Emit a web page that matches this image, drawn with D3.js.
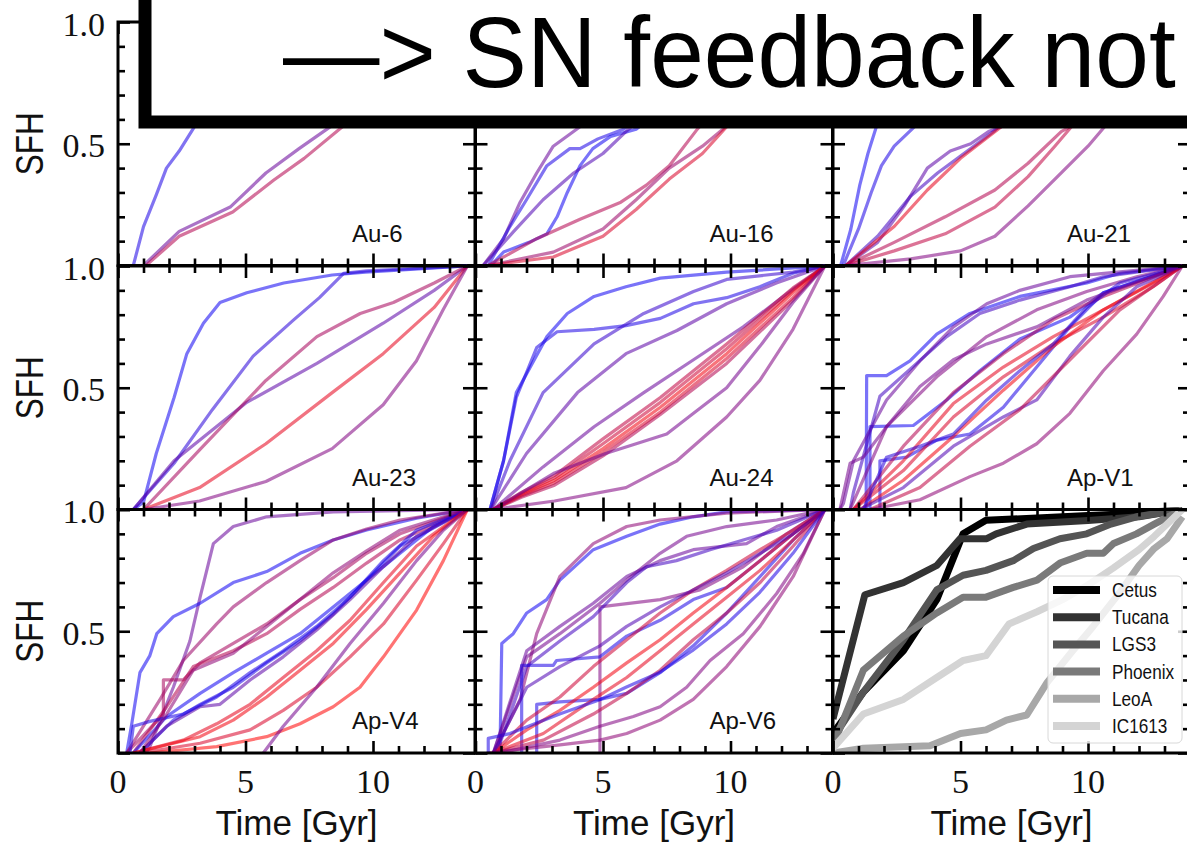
<!DOCTYPE html>
<html><head><meta charset="utf-8">
<script src="https://cdn.jsdelivr.net/npm/d3@7"></script>
<style>body{margin:0;background:#fff}svg{display:block}</style>
</head><body>
<svg id="c" width="1187" height="848"></svg>
<script>
// ---------- texts / ticks ----------
const titleText = "\u2014> SN feedback not";
const xLabel = "Time [Gyr]";
const yLabel = "SFH";
const panelNames = ["Au-6","Au-16","Au-21","Au-23","Au-24","Ap-V1","Ap-V4","Ap-V6"];
const xMajorTicks = [0,5,10];
const xMinorTicks = [1,2,3,4,6,7,8,9,11,12,13];
const yMajorTicks = [0,0.5,1];
const yMinorTicks = [0.1,0.2,0.3,0.4,0.6,0.7,0.8,0.9];
const yTickLabels = [[1,"1.0"],[0.5,"0.5"]];
const xTickLabels = [[0,"0"],[5,"5"],[10,"10"]];

// ---------- simulation SFHs: c = colour value (0 blue -> 1 red), d = [time Gyr, cumulative SFH] ----------
const au6Lines = [
 {c:0.1, d:[[0.6,0],[1.0,0.16],[1.5,0.29],[1.9,0.40],[2.4,0.47],[3.0,0.57],[4,0.75],[5,0.87],[6.5,0.95],[9,0.99],[13.7,1]]},
 {c:0.4, d:[[1.0,0],[2.4,0.14],[4.4,0.24],[5.8,0.38],[7.1,0.48],[8.6,0.59],[10,0.72],[11.5,0.85],[12.7,0.95],[13.7,1]]},
 {c:0.7, d:[[1.1,0],[2.4,0.12],[4.5,0.22],[6.1,0.35],[7.3,0.44],[8.8,0.57],[10,0.70],[11.5,0.83],[12.7,0.94],[13.7,1]]}
];
const au16Lines = [
 {c:0.4, d:[[0.3,0],[1.1,0.11],[1.75,0.26],[2.4,0.38],[3.05,0.49],[4.1,0.57],[5.5,0.72],[7,0.85],[9,0.94],[11,0.98],[13.7,1]]},
 {c:0.1, d:[[0.5,0],[1.35,0.16],[2.0,0.27],[2.8,0.41],[3.7,0.48],[4.1,0.48],[4.8,0.52],[5.8,0.56],[7,0.65],[9,0.8],[11,0.92],[13.7,1]]},
 {c:0.05, d:[[0.6,0],[1.1,0.055],[2.1,0.095],[2.8,0.13],[3.2,0.20],[3.6,0.30],[4.1,0.41],[4.6,0.48],[5.3,0.53],[6.3,0.56],[8,0.7],[10,0.85],[12,0.95],[13.7,1]]},
 {c:0.3, d:[[0.3,0],[1.5,0.14],[2.65,0.27],[3.85,0.38],[5.0,0.46],[5.9,0.55],[7.5,0.7],[9.5,0.85],[11.5,0.95],[13.7,1]]},
 {c:0.7, d:[[0.5,0],[2.4,0.11],[4.1,0.19],[5.7,0.26],[6.7,0.33],[7.6,0.41],[8.7,0.56],[10,0.72],[11.5,0.86],[12.8,0.96],[13.7,1]]},
 {c:0.6, d:[[0.5,0],[3.05,0.055],[5.0,0.15],[6.3,0.27],[7.6,0.40],[8.9,0.49],[9.7,0.56],[11,0.72],[12.4,0.88],[13.7,1]]},
 {c:0.85, d:[[0.5,0],[3.05,0.035],[5.0,0.12],[6.3,0.23],[7.6,0.355],[8.9,0.46],[9.85,0.57],[11,0.72],[12.4,0.88],[13.7,1]]}
];
const au21Lines = [
 {c:0.05, d:[[0.3,0],[0.7,0.15],[1.05,0.33],[1.37,0.46],[1.7,0.57],[2.3,0.75],[3,0.88],[4,0.95],[6,0.99],[13.7,1]]},
 {c:0.1, d:[[0.4,0],[1.0,0.15],[1.5,0.30],[1.9,0.41],[2.4,0.49],[3.2,0.57],[4.5,0.72],[6,0.84],[8,0.94],[10,0.98],[13.7,1]]},
 {c:0.35, d:[[0.5,0],[1.75,0.095],[2.8,0.245],[3.7,0.40],[4.6,0.47],[5.4,0.50],[6.1,0.55],[6.6,0.57],[8,0.7],[10,0.86],[12,0.96],[13.7,1]]},
 {c:0.25, d:[[0.5,0],[1.75,0.12],[3.05,0.285],[4.1,0.38],[5.4,0.48],[6.35,0.555],[7.5,0.68],[9.5,0.84],[11.5,0.95],[13.7,1]]},
 {c:0.9, d:[[0.5,0],[2.4,0.16],[3.7,0.31],[5.0,0.44],[6.6,0.57],[8,0.7],[10,0.84],[12,0.95],[13.7,1]]},
 {c:0.7, d:[[0.5,0],[2.4,0.095],[4.4,0.20],[6.35,0.31],[7.65,0.42],[8.95,0.55],[9.3,0.57],[10.5,0.7],[12,0.86],[13.7,1]]},
 {c:0.75, d:[[0.5,0],[2.4,0.06],[4.4,0.13],[6.35,0.24],[7.65,0.365],[8.7,0.49],[9.35,0.57],[10.5,0.72],[12,0.87],[13.7,1]]},
 {c:0.5, d:[[0.5,0],[3.05,0.027],[5.0,0.06],[6.35,0.12],[7.65,0.245],[8.95,0.38],[10.0,0.49],[10.65,0.57],[11.8,0.75],[12.8,0.9],[13.7,1]]}
];
const au23Lines = [
 {c:0.05, d:[[0.6,0],[1.0,0.03],[1.5,0.23],[2.2,0.46],[2.7,0.64],[3.35,0.765],[4.0,0.85],[5.05,0.89],[6.5,0.93],[8.4,0.963],[9.7,0.975],[13.7,1]]},
 {c:0.15, d:[[0.6,0],[2.2,0.19],[3.7,0.41],[5.3,0.63],[6.9,0.78],[7.9,0.87],[8.85,0.97],[9.75,0.98],[13.7,1]]},
 {c:0.35, d:[[0.6,0],[2.2,0.20],[5.05,0.44],[7.8,0.60],[10.4,0.765],[12.4,0.90],[13.7,1]]},
 {c:0.65, d:[[1.0,0],[3.2,0.245],[5.8,0.53],[7.8,0.71],[9.5,0.805],[10.8,0.85],[12.4,0.93],[13.7,1]]},
 {c:0.9, d:[[1.0,0],[3.2,0.09],[5.8,0.27],[8.4,0.48],[10.4,0.64],[12.4,0.83],[13.7,1]]},
 {c:0.5, d:[[1.0,0],[3.2,0.035],[5.8,0.115],[8.4,0.25],[10.4,0.43],[11.7,0.61],[12.75,0.82],[13.7,1]]}
];
const au24Lines = [
 {c:0.05, d:[[0.57,0],[1.1,0.20],[1.6,0.48],[2.15,0.585],[2.8,0.71],[3.6,0.805],[4.65,0.875],[5.9,0.915],[7.25,0.95],[9.85,0.975],[13.7,1]]},
 {c:0.1, d:[[0.57,0],[1.1,0.20],[1.6,0.46],[2.4,0.665],[3.2,0.73],[4.65,0.74],[5.9,0.755],[7.25,0.785],[8.55,0.845],[9.85,0.87],[11.15,0.915],[12.45,0.97],[13.7,1]]},
 {c:0.2, d:[[0.6,0],[1.35,0.20],[2.65,0.48],[4.65,0.68],[6.6,0.805],[8.55,0.895],[9.85,0.945],[12.45,0.975],[13.7,1]]},
 {c:0.35, d:[[0.6,0],[2.0,0.23],[4.0,0.48],[5.9,0.64],[7.9,0.735],[9.85,0.845],[11.8,0.93],[13.7,1]]},
 {c:0.4, d:[[0.7,0],[2.65,0.175],[4.65,0.34],[6.6,0.48],[8.55,0.615],[10.5,0.75],[12.45,0.905],[13.7,1]]},
 {c:0.75, d:[[0.7,0],[1.8,0.07],[3.1,0.14],[5,0.29],[7.25,0.46],[9.85,0.68],[12.45,0.91],[13.7,1]]},
 {c:0.8, d:[[0.7,0],[1.8,0.065],[3.1,0.13],[5,0.27],[7.25,0.44],[9.85,0.66],[12.45,0.90],[13.7,1]]},
 {c:0.95, d:[[0.7,0],[1.8,0.06],[3.1,0.12],[5,0.25],[7.25,0.42],[9.85,0.64],[12.45,0.89],[13.7,1]]},
 {c:0.85, d:[[0.7,0],[1.8,0.055],[3.1,0.11],[5,0.235],[7.25,0.40],[9.85,0.62],[12.45,0.87],[13.7,1]]},
 {c:0.7, d:[[0.7,0],[1.8,0.05],[3.1,0.10],[5,0.22],[7.25,0.39],[9.85,0.60],[12.45,0.86],[13.7,1]]},
 {c:0.45, d:[[0.7,0],[3.1,0.15],[5.1,0.23],[7.5,0.31],[8.55,0.395],[9.85,0.50],[11.15,0.67],[12.45,0.85],[13.7,1]]},
 {c:0.5, d:[[0.7,0],[3.1,0.035],[5.9,0.09],[7.9,0.2],[9.85,0.38],[11.15,0.53],[12.45,0.74],[13.7,1]]}
];
const apV1Lines = [
 {c:0.05, d:[[1.3,0],[1.32,0.55],[2.1,0.55],[3.02,0.61],[4.07,0.72],[5.37,0.805],[7.33,0.875],[9.95,0.93],[11.25,0.97],[13.7,1]]},
 {c:0.05, d:[[1.45,0],[1.45,0.34],[3.15,0.345],[4.46,0.45],[5.76,0.57],[7.33,0.70],[9.29,0.79],[10.6,0.89],[13.7,1]]},
 {c:0.1, d:[[1.84,0],[1.84,0.20],[2.89,0.215],[4.07,0.285],[5.37,0.31],[6.68,0.42],[7.99,0.585],[9.29,0.75],[10.6,0.89],[13.7,1]]},
 {c:0.4, d:[[0.27,0],[0.41,0.025],[0.8,0.2],[2.1,0.45],[3.41,0.61],[4.72,0.75],[6.03,0.845],[7.33,0.9],[9.29,0.956],[11.25,0.976],[13.7,1]]},
 {c:0.25, d:[[0.67,0],[0.8,0.07],[1.84,0.465],[3.28,0.60],[4.46,0.71],[5.76,0.805],[7.33,0.86],[9.29,0.915],[10.6,0.956],[13.7,1]]},
 {c:0.5, d:[[0.67,0],[2.1,0.34],[4.07,0.545],[6.03,0.71],[7.99,0.82],[9.95,0.895],[11.91,0.956],[13.7,1]]},
 {c:0.7, d:[[0.8,0],[2.76,0.26],[4.72,0.48],[6.68,0.64],[8.64,0.78],[10.6,0.875],[13.7,1]]},
 {c:0.9, d:[[0.8,0],[2.76,0.2],[4.72,0.435],[6.68,0.585],[8.64,0.71],[10.6,0.82],[12.56,0.93],[13.7,1]]},
 {c:0.85, d:[[0.8,0],[2.76,0.16],[4.72,0.38],[6.68,0.545],[8.64,0.68],[10.6,0.79],[12.56,0.915],[13.7,1]]},
 {c:0.95, d:[[1.06,0],[2.76,0.12],[4.72,0.30],[6.68,0.49],[8.64,0.67],[10.6,0.82],[13.7,1]]},
 {c:0.3, d:[[1.06,0],[2.76,0.09],[4.72,0.26],[6.68,0.38],[7.99,0.45],[9.29,0.63],[10.6,0.79],[11.91,0.915],[13.7,1]]},
 {c:0.75, d:[[1.45,0],[3.41,0.09],[5.37,0.26],[7.33,0.41],[9.29,0.615],[11.25,0.82],[13.7,1]]},
 {c:0.55, d:[[1.45,0],[3.41,0.04],[5.37,0.135],[6.68,0.19],[7.99,0.27],[9.29,0.395],[10.6,0.57],[11.91,0.72],[12.95,0.875],[13.7,1]]},
 {c:0.15, d:[[1.19,0],[2.1,0.215],[3.41,0.26],[4.72,0.31],[6.03,0.45],[7.33,0.57],[8.64,0.68],[9.95,0.83],[11.25,0.93],[13.7,1]]},
 {c:0.45, d:[[0.27,0],[0.67,0.19],[1.19,0.215],[2.1,0.34],[3.41,0.505],[4.72,0.615],[6.03,0.68],[7.99,0.75],[9.95,0.86],[13.7,1]]}
];
const apV4Lines = [
 {c:0.4, d:[[1.1,0],[1.25,0.026],[2.17,0.27],[2.82,0.46],[3.22,0.64],[3.74,0.86],[4.52,0.93],[5.83,0.97],[8.44,0.99],[13.7,1]]},
 {c:0.05, d:[[0.34,0],[0.54,0.12],[0.86,0.33],[1.25,0.40],[1.52,0.49],[2.17,0.56],[3.22,0.615],[4.52,0.70],[5.83,0.745],[7.14,0.82],[8.44,0.875],[9.75,0.916],[11.71,0.964],[13.7,1]]},
 {c:0.6, d:[[0.34,0],[1.65,0.22],[2.56,0.38],[3.87,0.53],[4.52,0.60],[5.83,0.70],[7.14,0.79],[8.44,0.875],[9.75,0.92],[11.06,0.957],[13.7,1]]},
 {c:0.65, d:[[0.34,0],[1.78,0.16],[1.78,0.30],[2.56,0.30],[3.22,0.37],[4.52,0.45],[5.83,0.53],[7.14,0.63],[8.44,0.72],[9.75,0.82],[11.06,0.9],[13.7,1]]},
 {c:0.7, d:[[0.6,0],[1.91,0.19],[2.95,0.355],[4.52,0.42],[5.83,0.49],[7.14,0.59],[8.44,0.68],[9.75,0.78],[11.06,0.875],[13.7,1]]},
 {c:0.05, d:[[0.6,0],[1.91,0.15],[3.22,0.245],[4.52,0.33],[5.83,0.41],[7.14,0.49],[8.44,0.60],[9.75,0.71],[11.06,0.82],[12.37,0.93],[13.7,1]]},
 {c:0.1, d:[[0.86,0],[2.17,0.135],[3.22,0.20],[4.52,0.27],[5.83,0.37],[7.14,0.46],[8.44,0.57],[9.75,0.71],[11.06,0.85],[13.7,1]]},
 {c:0.35, d:[[0.86,0],[1.91,0.11],[3.22,0.19],[4.0,0.2],[5.18,0.30],[6.48,0.395],[7.79,0.505],[9.1,0.63],[10.41,0.765],[11.71,0.89],[13.7,1]]},
 {c:0.1, d:[[0.47,0],[0.6,0.11],[1.25,0.13],[2.56,0.16],[3.87,0.23],[5.18,0.33],[6.48,0.42],[7.79,0.52],[9.1,0.64],[10.41,0.79],[11.71,0.915],[13.7,1]]},
 {c:0.9, d:[[0.6,0],[2.56,0.053],[3.87,0.12],[5.18,0.20],[6.48,0.31],[7.79,0.42],[9.1,0.545],[10.41,0.70],[11.71,0.85],[13.7,1]]},
 {c:0.95, d:[[0.6,0],[3.22,0.067],[4.52,0.135],[5.83,0.23],[7.14,0.34],[8.44,0.45],[9.75,0.59],[11.06,0.74],[12.37,0.89],[13.7,1]]},
 {c:0.85, d:[[0.86,0],[3.22,0.04],[5.18,0.095],[6.48,0.175],[7.79,0.27],[9.1,0.395],[10.41,0.53],[11.71,0.71],[12.76,0.86],[13.7,1]]},
 {c:1.0, d:[[1.25,0],[3.87,0.026],[5.83,0.067],[7.14,0.12],[8.44,0.19],[9.49,0.27],[10.41,0.395],[11.71,0.587],[12.76,0.79],[13.7,1]]},
 {c:0.45, d:[[5.7,0],[6.48,0.11],[7.79,0.27],[9.1,0.45],[10.41,0.615],[11.71,0.79],[12.76,0.915],[13.7,1]]},
 {c:0.55, d:[[0.86,0],[1.91,0.16],[2.95,0.34],[4.52,0.41],[5.83,0.52],[7.14,0.63],[8.44,0.74],[9.75,0.83],[11.06,0.915],[13.7,1]]}
];
const apV6Lines = [
 {c:0.05, d:[[0.96,0],[1.03,0.45],[1.48,0.49],[2.01,0.575],[2.79,0.63],[3.31,0.71],[4.62,0.835],[5.93,0.89],[7.24,0.94],[8.54,0.97],[9.85,0.99],[13.7,1]]},
 {c:0.55, d:[[0.7,0],[1.75,0.22],[2.40,0.49],[3.31,0.725],[4.62,0.86],[5.93,0.93],[7.24,0.957],[9.85,0.985],[13.7,1]]},
 {c:0.45, d:[[0.7,0],[2.01,0.395],[3.31,0.49],[4.88,0.615],[5.93,0.71],[7.24,0.82],[8.28,0.89],[9.85,0.93],[11.81,0.957],[13.7,1]]},
 {c:0.4, d:[[0.7,0],[2.01,0.42],[3.31,0.52],[4.62,0.615],[5.93,0.725],[7.24,0.79],[8.54,0.835],[10.63,0.86],[11.81,0.93],[13.7,1]]},
 {c:0.5, d:[[4.88,0],[4.88,0.60],[7.24,0.63],[8.80,0.67],[10.5,0.765],[12.2,0.90],[13.7,1]]},
 {c:0.25, d:[[0.83,0],[2.01,0.355],[3.31,0.46],[4.62,0.56],[5.93,0.70],[6.71,0.765],[7.88,0.79],[9.2,0.835],[10.5,0.875],[11.81,0.915],[13.7,1]]},
 {c:0.1, d:[[1.81,0],[1.81,0.36],[3.05,0.36],[3.18,0.38],[4.88,0.395],[5.93,0.48],[7.24,0.545],[8.54,0.63],[9.85,0.68],[11.16,0.79],[12.46,0.90],[13.7,1]]},
 {c:0.1, d:[[2.40,0],[2.40,0.20],[3.31,0.21],[4.88,0.22],[5.93,0.245],[7.24,0.33],[8.54,0.44],[9.85,0.575],[11.16,0.725],[12.46,0.875],[13.7,1]]},
 {c:0.8, d:[[0.7,0],[2.01,0.135],[3.31,0.23],[4.62,0.355],[5.93,0.465],[7.24,0.575],[8.54,0.67],[9.85,0.75],[11.16,0.835],[12.46,0.915],[13.7,1]]},
 {c:0.95, d:[[0.7,0],[2.01,0.095],[3.31,0.175],[4.62,0.27],[5.93,0.37],[7.24,0.465],[8.54,0.575],[9.85,0.68],[11.16,0.79],[12.46,0.90],[13.7,1]]},
 {c:0.9, d:[[0.7,0],[2.66,0.08],[4.62,0.22],[5.93,0.31],[7.24,0.42],[8.54,0.53],[9.85,0.64],[11.16,0.75],[12.46,0.875],[13.7,1]]},
 {c:0.75, d:[[0.7,0],[2.66,0.053],[4.62,0.16],[5.93,0.245],[7.24,0.34],[8.54,0.465],[9.85,0.575],[11.16,0.70],[12.46,0.85],[13.7,1]]},
 {c:0.5, d:[[0.96,0],[3.31,0.053],[4.88,0.11],[6.19,0.15],[7.24,0.19],[8.28,0.27],[9.2,0.38],[10.5,0.49],[11.81,0.655],[12.86,0.82],[13.7,1]]},
 {c:0.55, d:[[0.44,0],[3.31,0.033],[4.88,0.053],[5.93,0.08],[7.24,0.135],[8.54,0.22],[9.85,0.355],[11.16,0.52],[12.46,0.725],[13.7,1]]},
 {c:0.1, d:[[0.5,0],[0.5,0.06],[1.35,0.08],[3.3,0.16],[4.9,0.22],[5.9,0.27],[7.2,0.33],[8.5,0.42],[9.85,0.53],[11.15,0.66],[12.45,0.82],[13.7,1]]},
 {c:0.3, d:[[0.7,0],[2.01,0.27],[3.31,0.355],[4.88,0.44],[5.93,0.52],[7.24,0.60],[8.54,0.67],[9.85,0.74],[11.16,0.82],[12.46,0.90],[13.7,1]]}
];

// ---------- observed dwarfs ----------
const dwarfNames = ["Cetus","Tucana","LGS3","Phoenix","LeoA","IC1613"];
const cetus   = [[0,0.08],[1.19,0.25],[2.76,0.42],[4.07,0.63],[5.1,0.90],[6.0,0.956],[8,0.965],[10,0.975],[12,0.985],[13.7,1]];
const tucana  = [[0,0.14],[1.25,0.65],[2.76,0.70],[4.07,0.77],[4.98,0.88],[6.03,0.88],[6.4,0.90],[7.6,0.94],[10,0.955],[12,0.97],[13.7,1]];
const lgs3    = [[0,0.06],[1.19,0.25],[2.76,0.465],[4.07,0.67],[5.1,0.73],[6.0,0.75],[7.07,0.79],[7.86,0.84],[8.9,0.88],[9.95,0.90],[10.9,0.94],[11.9,0.97],[13.7,1]];
const phoenix = [[0,0.03],[1.19,0.34],[2.76,0.48],[4.07,0.575],[5.1,0.64],[6.0,0.64],[7.07,0.68],[8.0,0.71],[8.9,0.78],[9.95,0.82],[10.6,0.82],[11.0,0.86],[11.9,0.90],[12.6,0.94],[13.7,1]];
const leoA    = [[0,0],[1.19,0.02],[3.8,0.03],[5.0,0.08],[6.0,0.095],[6.8,0.135],[7.6,0.156],[8.4,0.29],[9.4,0.42],[10.2,0.52],[11.25,0.66],[12.0,0.77],[12.6,0.84],[13.1,0.88],[13.7,0.97]];
const ic1613  = [[0,0.02],[1.19,0.16],[2.76,0.22],[4.07,0.31],[5.1,0.38],[6.0,0.40],[6.9,0.53],[8.0,0.58],[9.0,0.63],[10.0,0.69],[11.0,0.76],[12.0,0.835],[12.6,0.89],[13.7,1]];
const dwarfSeries = [cetus,tucana,lgs3,phoenix,leoA,ic1613];

// ---------- layout / style ----------
const dwarfGreys = ["#000000","#333333","#555555","#7a7a7a","#a8a8a8","#d4d4d4"];
const colX = [118,475.5,833], rowY = [22,266,509.5], PW = 357, PH = 243.5;
const SANS = "'Liberation Sans', Arial, Helvetica, sans-serif";
const SERIF = "'Liberation Serif', 'Times New Roman', serif";

const svg = d3.select("#c");
const defs = svg.append("defs");
const x = d3.scaleLinear().domain([0,14]).range([0,PW]);
const y = d3.scaleLinear().domain([0,1]).range([PH,0]);
const colour = d3.scaleLinear().domain([0,1]).range(["#0000ff","#ff0000"]).interpolate(d3.interpolateRgb);
const line = d3.line().x(d=>x(d[0])).y(d=>y(d[1]));

const panels = [au6Lines,au16Lines,au21Lines,au23Lines,au24Lines,apV1Lines,apV4Lines,apV6Lines,null];

function addTicks(g){
  const mk=(axis,vals,size,tr)=>{
    const a=g.append("g").attr("transform",tr)
      .call(axis.tickValues(vals).tickSize(size).tickSizeOuter(0).tickFormat(""));
    a.select(".domain").remove();
    a.selectAll("text").remove();
    a.selectAll("line").attr("stroke","#000").attr("stroke-width",2.6);
  };
  mk(d3.axisBottom(x),xMajorTicks,-12,`translate(0,${PH})`);
  mk(d3.axisBottom(x),xMinorTicks,-7,`translate(0,${PH})`);
  mk(d3.axisTop(x),xMajorTicks,-12,"translate(0,0)");
  mk(d3.axisTop(x),xMinorTicks,-7,"translate(0,0)");
  mk(d3.axisLeft(y),yMajorTicks,-12,"translate(0,0)");
  mk(d3.axisLeft(y),yMinorTicks,-7,"translate(0,0)");
  mk(d3.axisRight(y),yMajorTicks,-12,`translate(${PW},0)`);
  mk(d3.axisRight(y),yMinorTicks,-7,`translate(${PW},0)`);
  g.append("rect").attr("x",0).attr("y",0).attr("width",PW).attr("height",PH)
    .attr("fill","none").attr("stroke","#000").attr("stroke-width",3);
}

panels.forEach((lines,i)=>{
  const r=Math.floor(i/3), c=i%3;
  const g=svg.append("g").attr("transform",`translate(${colX[c]},${rowY[r]})`);
  defs.append("clipPath").attr("id","clip"+i).append("rect")
    .attr("x",0).attr("y",-2).attr("width",PW).attr("height",PH+2);
  const body=g.append("g").attr("clip-path",`url(#clip${i})`);
  if(lines){
    body.selectAll("path").data(lines).join("path")
      .attr("d",d=>line(d.d)).attr("fill","none")
      .attr("stroke",d=>colour(d.c)).attr("stroke-opacity",0.55)
      .attr("stroke-width",3.2).attr("stroke-linejoin","round");
    g.append("text").attr("x",234).attr("y",PH-24)
      .attr("font-family",SANS).attr("font-size",24).attr("fill","#111")
      .text(panelNames[i]);
  } else {
    body.selectAll("path").data(dwarfSeries).join("path")
      .attr("d",d=>line(d)).attr("fill","none")
      .attr("stroke",(d,k)=>dwarfGreys[k]).attr("stroke-width",7)
      .attr("stroke-linejoin","round");
    const lg=svg.append("g").attr("transform","translate(1048,576)");
    lg.append("rect").attr("width",134).attr("height",167).attr("rx",5)
      .attr("fill","#fff").attr("fill-opacity",0.8).attr("stroke","#d8d8d8").attr("stroke-width",1);
    dwarfNames.forEach((n,k)=>{
      const yy=14+k*27.2;
      lg.append("line").attr("x1",5).attr("x2",52).attr("y1",yy).attr("y2",yy)
        .attr("stroke",dwarfGreys[k]).attr("stroke-width",8);
      lg.append("g").attr("transform",`translate(64,${yy+7}) scale(0.86,1)`)
        .append("text").attr("font-family",SANS).attr("font-size",20).attr("fill","#111").text(n);
    });
  }
  addTicks(g);
  if(c===0){
    yTickLabels.forEach(([v,t])=>{
      svg.append("text").attr("x",colX[0]-13).attr("y",rowY[r]+y(v)+13.5)
        .attr("text-anchor","end").attr("font-family",SERIF).attr("font-size",34)
        .attr("fill","#111").text(t);
    });
    svg.append("text").attr("transform",`translate(43,${rowY[r]+PH/2}) rotate(-90)`)
      .attr("text-anchor","middle").attr("font-family",SANS).attr("font-size",38)
      .attr("textLength",63).attr("lengthAdjust","spacingAndGlyphs").attr("fill","#111").text(yLabel);
  }
  if(r===2){
    xTickLabels.forEach(([v,t])=>{
      svg.append("text").attr("x",colX[c]+x(v)).attr("y",793)
        .attr("text-anchor","middle").attr("font-family",SERIF).attr("font-size",34)
        .attr("fill","#111").text(t);
    });
    svg.append("text").attr("x",colX[c]+PW/2).attr("y",835)
      .attr("text-anchor","middle").attr("font-family",SANS).attr("font-size",35)
      .attr("fill","#111").text(xLabel);
  }
});

// title box overlay
svg.append("rect").attr("x",145).attr("y",-60).attr("width",1150).attr("height",182)
  .attr("fill","#fff").attr("stroke","#000").attr("stroke-width",13);
svg.append("g").attr("transform","translate(283,87) scale(0.955,1)")
  .append("text").attr("font-family",SANS).attr("font-size",101)
  .attr("fill","#000").text(titleText);
</script>
</body></html>
